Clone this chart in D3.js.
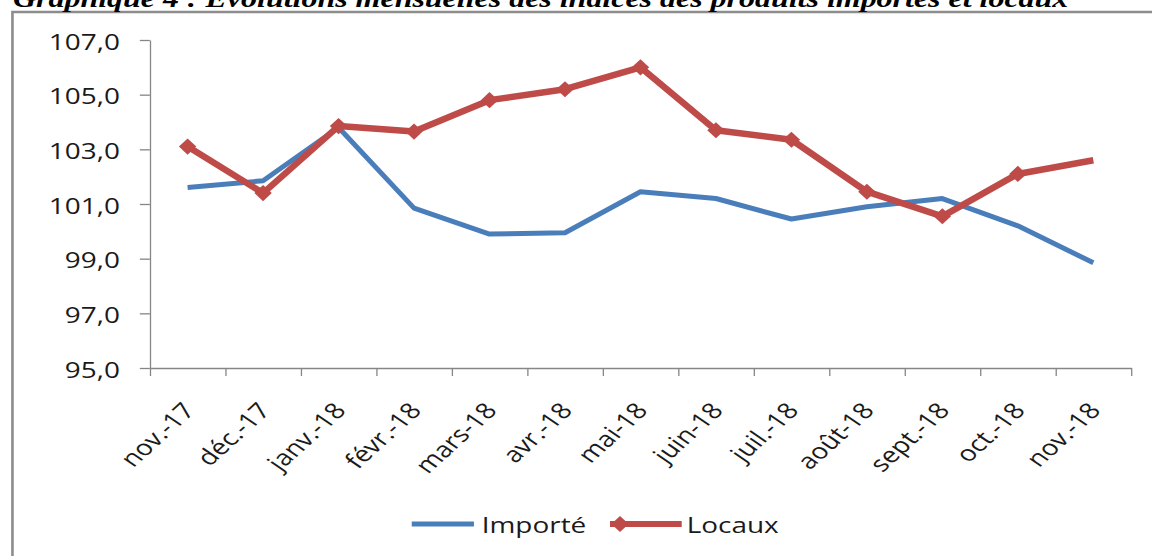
<!DOCTYPE html>
<html>
<head>
<meta charset="utf-8">
<script src="https://cdn.jsdelivr.net/npm/d3@7"></script>
<style>
  html, body { margin: 0; padding: 0; background: #fff; overflow: hidden; }
  svg { display: block; }
  text { font-family: "Open Sans", sans-serif; fill: #1a1a1a; }
</style>
</head>
<body>
<div id="chart"></div>
<script>
// values
const months = ["nov.-17", "déc.-17", "janv.-18", "févr.-18", "mars-18", "avr.-18", "mai-18",
                "juin-18", "juil.-18", "août-18", "sept.-18", "oct.-18", "nov.-18"]
const importe = [101.6, 101.85, 103.8, 100.85, 99.9, 99.95, 101.45, 101.2, 100.45, 100.9, 101.2, 100.2, 98.85]
const locaux = [103.1, 101.4, 103.85, 103.65, 104.8, 105.2, 106.0, 103.7, 103.35, 101.45, 100.55, 102.1, 102.6]
const yTicks = [95, 97, 99, 101, 103, 105, 107]
const seriesNames = ["Importé", "Locaux"]
const title = "Graphique 4 : Evolutions mensuelles des indices des produits importés et locaux"

// the source picture is stretched sideways, so draw narrow and let the viewBox stretch it
const stretch = 1.27
const W = 1152, H = 556
const w = W / stretch

const margin = {top: 40, right: w - 890.6, bottom: H - 368, left: 118}

const svg = d3.select("#chart").append("svg")
    .attr("width", W)
    .attr("height", H)
    .attr("viewBox", `0 0 ${w} ${H}`)
    .attr("preserveAspectRatio", "none")

// frame round the chart (runs off the page on the right and bottom)
svg.append("rect")
    .attr("x", 9.8).attr("y", 12)
    .attr("width", w + 20).attr("height", H + 20)
    .attr("fill", "none")
    .attr("stroke", "#8c8c8c")
    .attr("stroke-width", 2.6)
    .attr("vector-effect", "non-scaling-stroke")

// title, its top is cut off by the page edge as in the source
svg.append("text")
    .attr("x", 10.2).attr("y", 7)
    .attr("textLength", 831)
    .attr("lengthAdjust", "spacingAndGlyphs")
    .style("font-family", "'Liberation Serif', 'Times New Roman', serif")
    .style("font-weight", "bold")
    .style("font-style", "italic")
    .style("font-size", "25px")
    .style("fill", "#000")
    .text(title)

// scales
const x = d3.scaleBand()
    .domain(months)
    .range([margin.left, w - margin.right])

const xEdge = d3.scaleLinear()
    .domain([0, months.length])
    .range(x.range())

const y = d3.scaleLinear()
    .domain([d3.min(yTicks), d3.max(yTicks)])
    .range([H - margin.bottom, margin.top])

const fmt = d => d3.format(".1f")(d).replace(".", ",")

// axes
const yAxis = d3.axisLeft(y)
    .tickValues(yTicks)
    .tickSize(7.9)
    .tickSizeOuter(0)
    .tickPadding(15.7)
    .tickFormat(fmt)

const xAxis = d3.axisBottom(xEdge)
    .tickValues(d3.range(0, months.length + 1))
    .tickSize(8)
    .tickSizeOuter(0)
    .tickFormat("")

const gy = svg.append("g")
    .attr("transform", `translate(${margin.left},0)`)
    .call(yAxis)

const gx = svg.append("g")
    .attr("transform", `translate(0,${H - margin.bottom})`)
    .call(xAxis)

svg.selectAll(".domain, .tick line")
    .attr("stroke", "#868686")
    .attr("stroke-width", 1.3)
    .attr("vector-effect", "non-scaling-stroke")

gy.selectAll("text")
    .attr("dy", "0.41em")
    .style("font-size", "22px")
    .style("font-family", "'Open Sans', sans-serif")
    .style("fill", "#1a1a1a")

// month labels, turned
svg.append("g").selectAll("text")
    .data(months)
    .join("text")
    .attr("transform", d => `translate(${x(d) + x.bandwidth() / 2 - 5},401) rotate(-49)`)
    .attr("text-anchor", "end")
    .attr("dy", "0.71em")
    .style("font-size", "22px")
    .text(d => d)

// lines
const cx = i => x(months[i]) + x.bandwidth() / 2
const line = d3.line()
    .x((d, i) => cx(i))
    .y(d => y(d))

svg.append("path")
    .datum(importe)
    .attr("fill", "none")
    .attr("stroke", "#4a7ebb")
    .attr("stroke-width", 5)
    .attr("stroke-linejoin", "round")
    .attr("vector-effect", "non-scaling-stroke")
    .attr("d", line)

svg.append("path")
    .datum(locaux)
    .attr("fill", "none")
    .attr("stroke", "#be4b48")
    .attr("stroke-width", 6.5)
    .attr("stroke-linejoin", "round")
    .attr("vector-effect", "non-scaling-stroke")
    .attr("d", line)

// diamond markers on Locaux (the last point has none in the picture)
const diamond = d3.symbol().type(d3.symbolSquare).size(130)

svg.append("g").selectAll("path")
    .data(locaux.slice(0, -1))
    .join("path")
    .attr("transform", (d, i) => `translate(${cx(i)},${y(d)}) scale(0.85,1) rotate(45)`)
    .attr("d", diamond)
    .attr("fill", "#be4b48")

// legend
const legend = svg.append("g")

legend.append("line")
    .attr("x1", 324.2).attr("x2", 373.2)
    .attr("y1", 524).attr("y2", 524)
    .attr("stroke", "#4a7ebb")
    .attr("stroke-width", 5)
    .attr("vector-effect", "non-scaling-stroke")

legend.append("text")
    .attr("x", 379.3).attr("y", 533)
    .style("font-size", "22px")
    .text(seriesNames[0])

legend.append("line")
    .attr("x1", 480.3).attr("x2", 536.8)
    .attr("y1", 524).attr("y2", 524)
    .attr("stroke", "#be4b48")
    .attr("stroke-width", 6)
    .attr("vector-effect", "non-scaling-stroke")

legend.append("path")
    .attr("transform", "translate(488.2,524) scale(0.85,1) rotate(45)")
    .attr("d", diamond)
    .attr("fill", "#be4b48")

legend.append("text")
    .attr("x", 540.7).attr("y", 533)
    .style("font-size", "22px")
    .text(seriesNames[1])
</script>
</body>
</html>
